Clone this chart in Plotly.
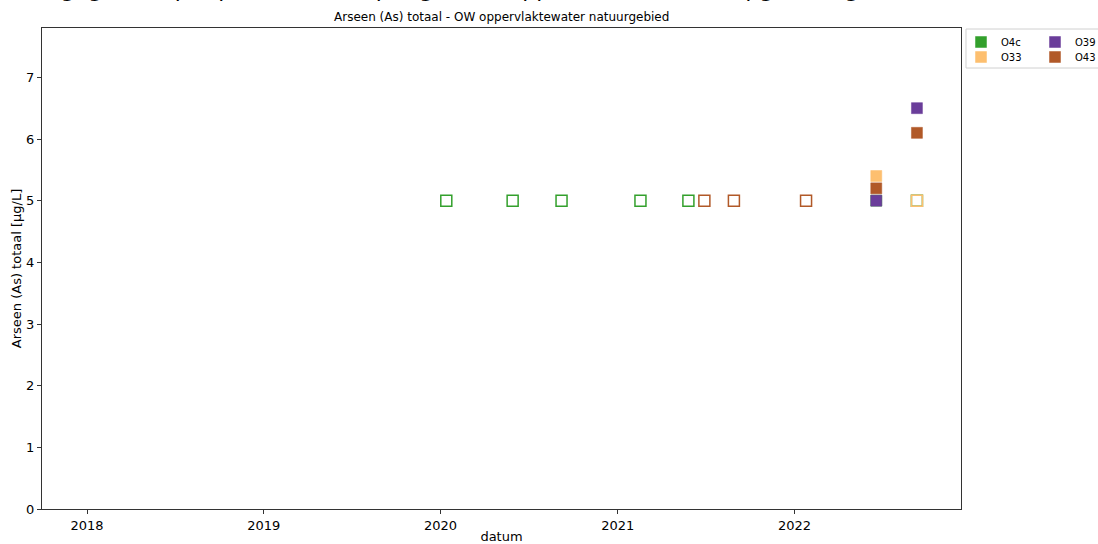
import plotly.graph_objects as go

# Series colours (Paired palette)
colors = {"O4c": "#33a02c", "O33": "#fdbf6f", "O39": "#6a3d9a", "O43": "#b15928"}

# Measured values (filled markers)
o4c_dates = ["2022-06-19"]
o4c_values = [5.0]
o33_dates = ["2022-06-19"]
o33_values = [5.4]
o39_dates = ["2022-06-19", "2022-09-11"]
o39_values = [5.0, 6.5]
o43_dates = ["2022-06-19", "2022-09-11"]
o43_values = [5.2, 6.1]

# Values below the reporting limit (open markers)
o4c_lt_dates = ["2020-01-13", "2020-05-29", "2020-09-07", "2021-02-17", "2021-05-27", "2022-09-11"]
o4c_lt_values = [5.0, 5.0, 5.0, 5.0, 5.0, 5.0]
o33_lt_dates = ["2022-09-11"]
o33_lt_values = [5.0]
o43_lt_dates = ["2021-06-29", "2021-08-29", "2022-01-25"]
o43_lt_values = [5.0, 5.0, 5.0]

year_ticks = ["2018-01-01", "2019-01-01", "2020-01-01", "2021-01-01", "2022-01-01"]
year_labels = ["2018", "2019", "2020", "2021", "2022"]
y_ticks = [0, 1, 2, 3, 4, 5, 6, 7]

title_text = "Meetgegevens per parameter en per gebied: oppervlaktewater (in µg/L) (dagwaarde)"
subtitle_text = "Arseen (As) totaal - OW oppervlaktewater natuurgebied"

FONT = "DejaVu Sans"
MSIZE = 11
FIG_W, FIG_H = 1098, 544

fig = go.Figure()

series = [
    ("O4c", o4c_dates, o4c_values, o4c_lt_dates, o4c_lt_values, "legend"),
    ("O33", o33_dates, o33_values, o33_lt_dates, o33_lt_values, "legend2"),
    ("O39", o39_dates, o39_values, [], [], "legend3"),
    ("O43", o43_dates, o43_values, o43_lt_dates, o43_lt_values, "legend4"),
]

for name, d, v, dl, vl, lg in series:
    c = colors[name]
    if dl:
        fig.add_trace(go.Scatter(
            x=dl, y=vl, mode="markers", name=name, showlegend=False,
            marker=dict(symbol="square-open", size=MSIZE, color=c, line=dict(width=1.5, color=c)),
            hoverinfo="x+y+name",
        ))
    fig.add_trace(go.Scatter(
        x=d, y=v, mode="markers", name=name, legend=lg,
        marker=dict(symbol="square", size=MSIZE, color=c, line=dict(width=0.5, color=c)),
    ))

# plot area in pixels
L, R, T, B = 42, 962, 28, 509
W, H = R - L, B - T

def px_x(p):
    return (p - L) / W

def px_y(p):
    return (B - p) / H

def cx(p):
    return p / FIG_W

def cy(p):
    return 1 - p / FIG_H

legend_common = dict(
    bgcolor="rgba(0,0,0,0)", borderwidth=0, font=dict(family=FONT, size=10, color="#000"),
    yanchor="middle", xanchor="left", itemsizing="trace",
    xref="container", yref="container",
)

axis_common = dict(
    showgrid=False, zeroline=False, automargin=False,
    showline=True, mirror=True, linecolor="#333", linewidth=1,
    ticks="outside", ticklen=4, tickcolor="#333",
    tickfont=dict(size=13),
)

fig.update_layout(
    width=FIG_W, height=FIG_H,
    margin=dict(l=L, r=FIG_W - R, t=T, b=FIG_H - B),
    paper_bgcolor="white", plot_bgcolor="white",
    font=dict(family=FONT, size=13, color="#000"),
    showlegend=True,
    legend=dict(x=cx(961), y=cy(42), **legend_common),
    legend2=dict(x=cx(961), y=cy(57), **legend_common),
    legend3=dict(x=cx(1035), y=cy(42), **legend_common),
    legend4=dict(x=cx(1035), y=cy(57), **legend_common),
    xaxis=dict(
        type="date", range=["2017-09-30", "2022-12-11"],
        tickvals=year_ticks, ticktext=year_labels,
        title=dict(text="datum", standoff=5, font=dict(size=13)),
        **axis_common,
    ),
    yaxis=dict(
        range=[0, 7.8], tickvals=y_ticks,
        title=dict(text="Arseen (As) totaal [µg/L]", standoff=1, font=dict(size=13)),
        **axis_common,
    ),
    shapes=[dict(
        type="rect", xref="paper", yref="paper",
        x0=px_x(967), x1=px_x(1110), y0=px_y(68), y1=px_y(29),
        line=dict(color="#d0d0d0", width=1), fillcolor="rgba(0,0,0,0)", layer="above",
    )],
    annotations=[
        dict(text=subtitle_text, xref="paper", yref="paper", x=0.5, y=1, yanchor="bottom",
             yshift=2, showarrow=False, font=dict(family=FONT, size=12)),
        # large heading sits mostly above the top edge of the figure
        dict(text=title_text, xref="paper", yref="paper", x=px_x(952), xanchor="right",
             y=1, yanchor="bottom", yshift=T - 4, showarrow=False,
             font=dict(family=FONT, size=22)),
    ],
)

fig.write_html("out.html")
